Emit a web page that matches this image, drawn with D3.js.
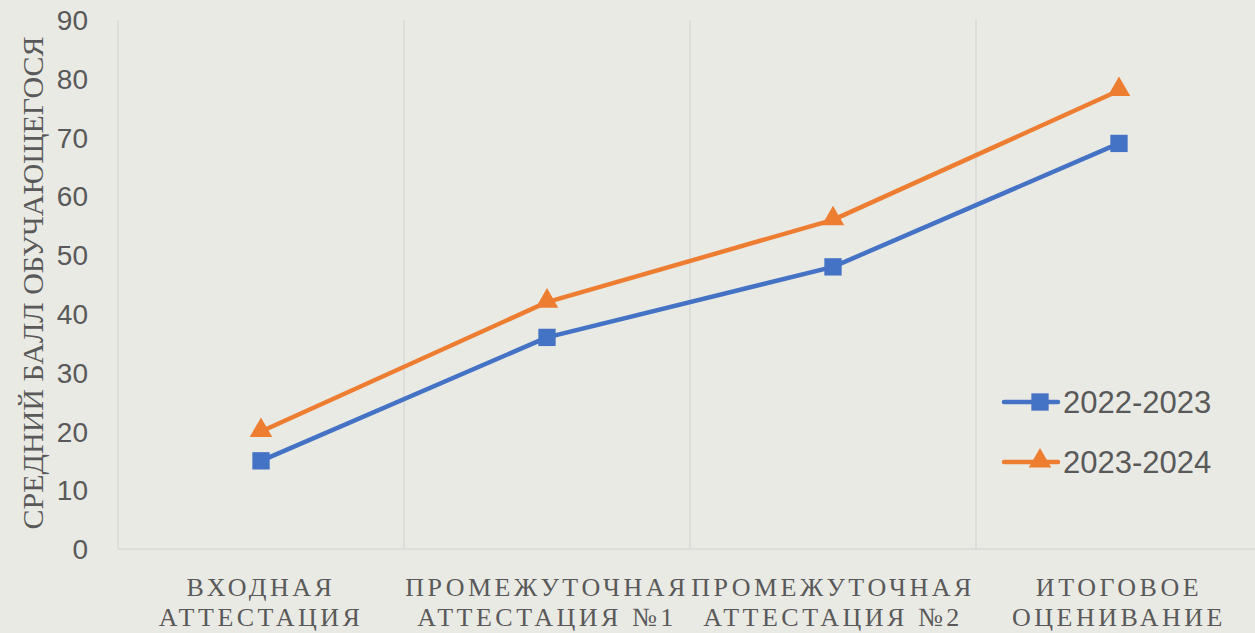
<!DOCTYPE html>
<html>
<head>
<meta charset="utf-8">
<script src="https://cdn.jsdelivr.net/npm/d3@7"></script>
<style>
  html, body { margin:0; padding:0; background:#EAEAE5; }
  #chart { width:1255px; height:633px; }
</style>
</head>
<body>
<div id="chart"></div>
<script>
// Line chart: mean student score by assessment stage, two school years
const categories = [['ВХОДНАЯ', 'АТТЕСТАЦИЯ'], ['ПРОМЕЖУТОЧНАЯ', 'АТТЕСТАЦИЯ №1'], ['ПРОМЕЖУТОЧНАЯ', 'АТТЕСТАЦИЯ №2'], ['ИТОГОВОЕ', 'ОЦЕНИВАНИЕ']];
const seriesNames = ['2022-2023', '2023-2024'];
const values2022 = [15, 36, 48, 69];
const values2023 = [20, 42, 56, 78];
const yTicks = [0, 10, 20, 30, 40, 50, 60, 70, 80, 90];

(function(){
  const w = 1255, h = 633;
  const margin = {top:20, right:-7, bottom:84, left:118};
  const width = w - margin.left - margin.right;
  const height = h - margin.top - margin.bottom;

  const svg = d3.select('#chart').append('svg').attr('width', w).attr('height', h);
  const g = svg.append('g').attr('transform', `translate(${margin.left},${margin.top})`);

  const x = d3.scaleBand().domain(d3.range(categories.length)).range([0, width]);
  const y = d3.scaleLinear().domain([0, 90]).range([height, 0]);

  // vertical grid lines between categories
  g.selectAll('.vgrid').data(d3.range(1, categories.length)).enter().append('line')
    .attr('x1', d => x(d)).attr('x2', d => x(d))
    .attr('y1', 0).attr('y2', height)
    .attr('stroke', '#D9D9D9').attr('stroke-width', 1.5);

  // axes lines
  g.append('line').attr('x1', 0).attr('x2', width).attr('y1', height).attr('y2', height)
    .attr('stroke', '#D9D9D9').attr('stroke-width', 1.5);
  g.append('line').attr('x1', 0).attr('x2', 0).attr('y1', 0).attr('y2', height)
    .attr('stroke', '#D9D9D9').attr('stroke-width', 1.5);

  // y tick labels
  g.selectAll('.ytick').data(yTicks).enter().append('text')
    .attr('x', -30).attr('y', d => y(d)).attr('dy', '0.36em')
    .attr('text-anchor', 'end')
    .attr('font-family', 'Liberation Sans, Arial, sans-serif').attr('font-size', 28)
    .attr('fill', '#595959').text(d => d);

  // category labels
  const cat = g.selectAll('.cat').data(categories).enter().append('text')
    .attr('x', (d, i) => x(i) + x.bandwidth() / 2)
    .attr('y', height + 47)
    .attr('text-anchor', 'middle')
    .attr('font-family', 'Liberation Serif, serif').attr('font-size', 26)
    .attr('letter-spacing', '3.5px')
    .attr('fill', '#595959');
  cat.selectAll('tspan').data(d => d).enter().append('tspan')
    .attr('x', function(){ return d3.select(this.parentNode).attr('x'); })
    .attr('dy', (d, i) => i === 0 ? 0 : 30)
    .text(d => d);

  // y axis title
  svg.append('text')
    .attr('transform', `translate(43,283) rotate(-90)`)
    .attr('text-anchor', 'middle')
    .attr('font-family', 'Liberation Serif, serif').attr('font-size', 30)
    .attr('fill', '#595959').text('СРЕДНИЙ БАЛЛ ОБУЧАЮЩЕГОСЯ');

  const line = d3.line().x((d, i) => x(i) + x.bandwidth() / 2).y(d => y(d));
  const colors = ['#4472C4', '#ED7D31'];
  const allSeries = [values2022, values2023];

  allSeries.forEach((vals, s) => {
    g.append('path').datum(vals).attr('d', line)
      .attr('fill', 'none').attr('stroke', colors[s]).attr('stroke-width', 4.5)
      .attr('stroke-linejoin', 'round').attr('stroke-linecap', 'round');
  });

  const sq = d3.symbol().type(d3.symbolSquare).size(300);
  const tri = d3.symbol().type(d3.symbolTriangle).size(220);
  g.selectAll('.m0').data(values2022).enter().append('path')
    .attr('d', sq).attr('transform', (d, i) => `translate(${x(i) + x.bandwidth() / 2},${y(d)})`)
    .attr('fill', colors[0]);
  g.selectAll('.m1').data(values2023).enter().append('path')
    .attr('d', tri).attr('transform', (d, i) => `translate(${x(i) + x.bandwidth() / 2},${y(d) - 1})`)
    .attr('fill', colors[1]);

  // legend
  const legend = svg.append('g').attr('transform', 'translate(1004,402)');
  seriesNames.forEach((name, i) => {
    const row = legend.append('g').attr('transform', `translate(0,${i * 60})`);
    row.append('line').attr('x1', 0).attr('x2', 54).attr('y1', 0).attr('y2', 0)
      .attr('stroke', colors[i]).attr('stroke-width', 4.5).attr('stroke-linecap', 'round');
    row.append('path').attr('d', i === 0 ? sq : tri)
      .attr('transform', `translate(36,${i === 0 ? 0 : -1})`).attr('fill', colors[i]);
    row.append('text').attr('x', 59).attr('y', 0).attr('dy', '0.36em')
      .attr('font-family', 'Liberation Sans, Arial, sans-serif').attr('font-size', 31)
      .attr('fill', '#595959').text(name);
  });
})();
</script>
</body>
</html>
